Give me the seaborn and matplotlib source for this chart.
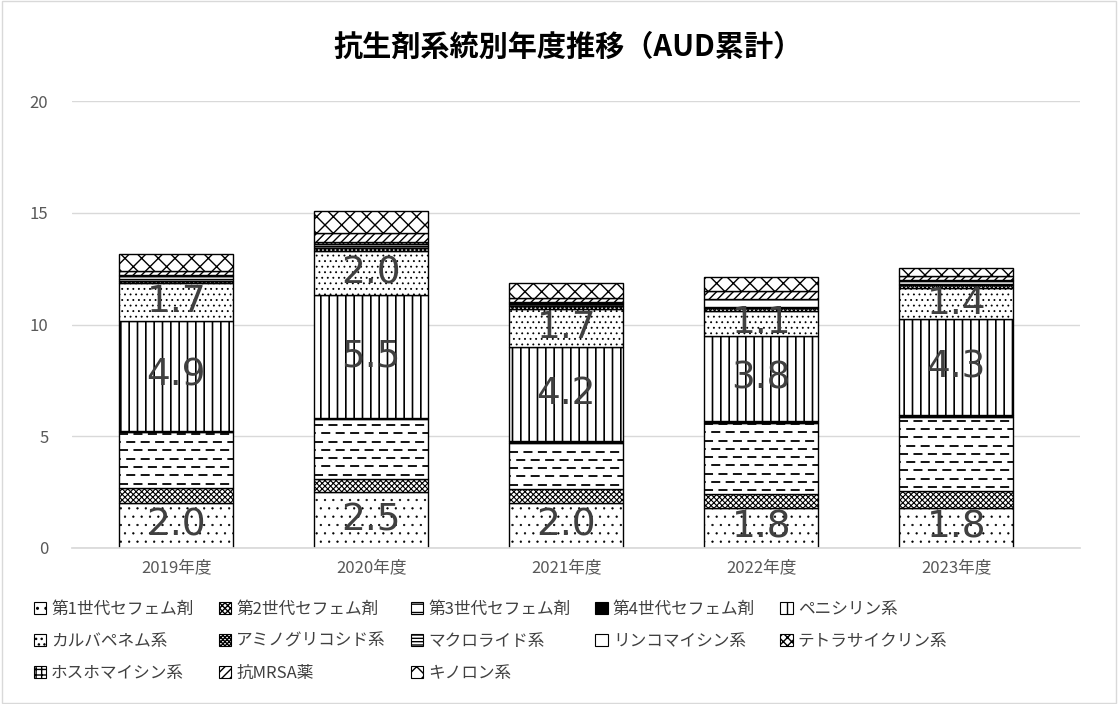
import matplotlib
matplotlib.use("Agg")
import matplotlib.pyplot as plt
from matplotlib.patches import Patch, Rectangle
import seaborn as sns

# Fiscal years on the x axis
years = ["2019年度", "2020年度", "2021年度", "2022年度", "2023年度"]

# Antibiotic classes, bottom of the stack first
classes = [
    "第1世代セフェム剤", "第2世代セフェム剤", "第3世代セフェム剤", "第4世代セフェム剤",
    "ペニシリン系", "カルバペネム系", "アミノグリコシド系", "マクロライド系",
    "リンコマイシン系", "テトラサイクリン系", "ホスホマイシン系", "抗MRSA薬", "キノロン系",
]

# AUD per class and year
cef1 = [2.0, 2.5, 2.0, 1.8, 1.8]
cef2 = [0.7, 0.6, 0.65, 0.6, 0.75]
cef3 = [2.5, 2.65, 2.05, 3.2, 3.3]
cef4 = [0.05, 0.05, 0.1, 0.1, 0.08]
penicillin = [4.9, 5.5, 4.2, 3.8, 4.3]
carbapenem = [1.7, 2.0, 1.7, 1.1, 1.4]
aminoglycoside = [0.1, 0.12, 0.15, 0.12, 0.15]
macrolide = [0.08, 0.1, 0.05, 0.05, 0.05]
lincomycin = [0.12, 0.1, 0.05, 0.35, 0.12]
tetracycline = [0.03, 0.05, 0.02, 0.02, 0.02]
fosfomycin = [0.02, 0.03, 0.02, 0.02, 0.02]
anti_mrsa = [0.2, 0.4, 0.2, 0.35, 0.2]
quinolone = [0.75, 1.0, 0.65, 0.6, 0.35]

series = [cef1, cef2, cef3, cef4, penicillin, carbapenem, aminoglycoside,
          macrolide, lincomycin, tetracycline, fosfomycin, anti_mrsa, quinolone]

# Classes whose value is printed inside the segment
labelled = {"第1世代セフェム剤", "ペニシリン系", "カルバペネム系"}

# Monochrome fill style per class: (facecolor, hatch, hatch line width)
styles = [
    ("white", "..", 0.4),
    ("white", "xxxxxx", 0.8),
    ("white", "", 1.0),        # dashed texture drawn separately
    ("black", "", 1.0),
    ("white", "||", 1.2),
    ("white", "...", 0.6),
    ("white", "xxxxxxxx", 0.8),
    ("white", "-----", 1.0),
    ("white", "", 1.0),
    ("white", "xxxx", 0.8),
    ("white", "+++", 0.8),
    ("white", "////", 1.0),
    ("white", "xx", 1.0),
]
dashed_class = "第3世代セフェム剤"

sns.set_theme(style="white")
plt.rcParams["font.family"] = ["Noto Sans CJK JP", "DejaVu Sans"]
plt.rcParams["hatch.linewidth"] = 1.0

fig = plt.figure(figsize=(11.18, 7.04), dpi=100)
ax = fig.add_axes([72 / 1118, 1 - 548 / 704, 1008 / 1118, 447 / 704])

bottom = [0.0] * len(years)
for name, vals, (fc, hatch, hlw) in zip(classes, series, styles):
    sns.barplot(x=years, y=vals, order=years, bottom=list(bottom), width=0.585,
                color="white", errorbar=None, ax=ax)
    cont = ax.containers[-1]
    for bar in cont:
        bar.set_facecolor(fc)
        bar.set_edgecolor("black")
        bar.set_linewidth(1.0)
        bar.set_hatch(hatch)
        if hasattr(bar, "set_hatch_linewidth"):
            bar.set_hatch_linewidth(hlw)
    if name == dashed_class:
        # horizontal dashed texture inside each segment, clipped to the bar
        step = 0.37
        for bar in cont:
            x0, y0 = bar.get_x(), bar.get_y()
            w, h = bar.get_width(), bar.get_height()
            k = 0
            y = y0 + step / 2
            while y < y0 + h:
                offset = 0 if k % 2 == 0 else 4
                ln, = ax.plot([x0, x0 + w], [y, y], color="black", lw=1.3,
                              linestyle=(offset, (5, 3)), dash_capstyle="butt")
                ln.set_clip_path(bar)
                y += step
                k += 1
    if name in labelled:
        ax.bar_label(cont, labels=[f"{v:.1f}" for v in vals], label_type="center",
                     fontsize=27, color="#404040", family="DejaVu Sans")
    bottom = [b + v for b, v in zip(bottom, vals)]

ax.set_ylim(0, 20)
ax.set_xlim(-0.535, len(years) - 0.365)
ax.set_yticks([0, 5, 10, 15, 20])
ax.yaxis.grid(True, color="#d9d9d9", linewidth=1)
ax.set_axisbelow(True)
for side in ["left", "right", "top"]:
    ax.spines[side].set_visible(False)
ax.spines["bottom"].set_color("#d9d9d9")
ax.tick_params(axis="both", length=0, labelsize=12, colors="#595959")
ax.tick_params(axis="y", pad=17)
ax.tick_params(axis="x", pad=8)
ax.set_xlabel("")
ax.set_ylabel("")

fig.suptitle("抗生剤系統別年度推移（AUD累計）", x=0.508, y=0.955, fontsize=21,
             fontweight="bold", color="black")

# Legend filled row by row, five entries per row
ncol = 5
nrow = -(-len(classes) // ncol)
order = [r * ncol + c for c in range(ncol) for r in range(nrow) if r * ncol + c < len(classes)]
handles = [Patch(facecolor=styles[i][0], edgecolor="black",
                 hatch=(styles[i][1] if classes[i] != dashed_class else "--"),
                 linewidth=0.8) for i in order]
labels = [classes[i] for i in order]
fig.legend(handles, labels, loc="upper left", bbox_to_anchor=(27 / 1118, 1 - 594 / 704),
           ncol=ncol, frameon=False, fontsize=12, labelcolor="#404040",
           handlelength=0.75, handleheight=0.75, handletextpad=0.3,
           columnspacing=1.5, labelspacing=0.9, borderaxespad=0)

fig.add_artist(Rectangle((0.002, 0.002), 0.996, 0.996, transform=fig.transFigure,
                         fill=False, edgecolor="#d9d9d9", linewidth=1))

fig.savefig("out.png", dpi=100)
